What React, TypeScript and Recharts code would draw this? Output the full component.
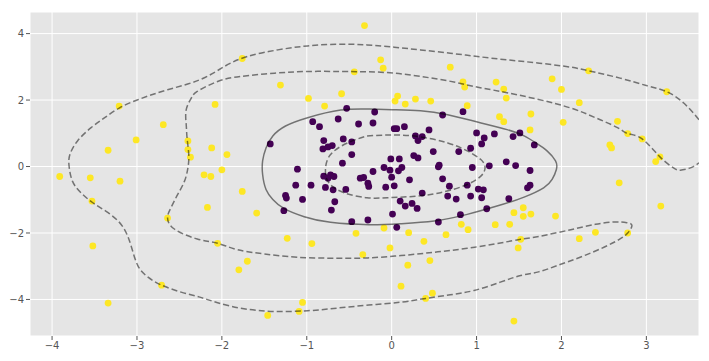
import React from 'react';
import { ScatterChart, Scatter, XAxis, YAxis, CartesianGrid } from 'recharts';

type P = [number, number];

const classInner: P[] = [
  [-0.53, 1.75], [-0.93, 1.35], [-0.63, 1.43], [-0.85, 1.2], [-0.39, 1.28], [-1.43, 0.68],
  [-0.8, 0.78], [-0.81, 0.53], [-0.75, 0.59], [-0.7, 0.63], [-0.57, 0.83], [-0.47, 0.74],
  [-0.47, 0.36], [-0.58, 0.1], [-1.11, -0.08], [-0.8, -0.29], [-0.75, -0.35], [-0.72, -0.25],
  [-0.68, -0.3], [-0.37, -0.35], [-0.33, -0.33], [-0.28, -0.5], [-0.27, -0.6], [-1.13, -0.56],
  [-0.95, -0.56], [-0.78, -0.63], [-0.69, -0.7], [-0.54, -0.69], [-1.25, -0.87], [-1.24, -0.95],
  [-1.05, -0.99], [-0.67, -1.06], [-0.71, -1.31], [-1.27, -1.33], [-0.47, -1.66], [-0.28, -1.61],
  [-0.2, 1.64], [0.6, 1.55], [0.84, 1.65], [-0.22, 1.31], [0.03, 1.14], [0.06, 1.14],
  [0.15, 1.2], [0.44, 1.1], [0.28, 0.92], [0.36, 0.9], [0.31, 0.78], [0.49, 0.45],
  [0.26, 0.33], [0.31, 0.26], [-0.01, 0.23], [0.09, 0.23], [-0.09, -0.03], [-0.02, -0.11],
  [0.12, -0.03], [0.08, -0.13], [-0.22, -0.15], [0.0, -0.32], [-0.07, -0.62], [0.03, -0.58],
  [0.21, -0.4], [0.36, -0.8], [0.56, 0.04], [0.55, -0.01], [0.6, -0.37], [0.68, -0.59],
  [0.66, -0.89], [0.76, -0.98], [0.79, 0.45], [0.93, 0.55], [0.95, -0.03], [0.89, -0.56],
  [0.93, -0.89], [1.02, -0.68], [1.08, -0.7], [1.06, -0.94], [1.0, 1.01], [1.09, 0.86],
  [1.06, 0.68], [1.21, 0.98], [1.15, 0.02], [1.35, 0.14], [1.46, 0.03], [1.43, 0.9],
  [1.51, 1.01], [1.68, 0.65], [1.63, -0.12], [1.63, -0.56], [1.6, -0.64], [1.38, -0.97],
  [1.12, -1.27], [0.81, -1.45], [0.55, -1.67], [0.01, -1.43], [0.1, -1.04], [0.16, -1.19],
  [0.24, -1.11], [0.3, -1.26], [0.06, -1.83],
];

const classOuter: P[] = [
  [-3.21, 1.82], [-0.32, 4.24], [-1.76, 3.25], [-0.44, 2.85], [-1.31, 2.45], [-0.98, 2.05],
  [-0.59, 2.19], [-2.08, 1.87], [-0.79, 1.82], [-2.12, 0.56], [-1.94, 0.36], [-2.0, -0.1],
  [-2.21, -0.25], [-2.13, -0.3], [-1.76, -0.75], [-2.17, -1.23], [-1.59, -1.4], [-2.69, 1.26],
  [-3.01, 0.8], [-3.34, 0.49], [-2.4, 0.77], [-2.4, 0.51], [-2.37, 0.28], [-3.91, -0.3],
  [-3.55, -0.34], [-3.2, -0.44], [-3.53, -1.04], [-2.64, -1.55], [-3.52, -2.39], [-3.34, -4.11],
  [-2.71, -3.57], [-2.05, -2.31], [-1.7, -2.85], [-1.8, -3.11], [-1.23, -2.16], [-0.94, -2.32],
  [-0.42, -2.01], [-0.34, -2.65], [-1.05, -4.09], [-1.09, -4.36], [-1.46, -4.48], [-0.09, -1.85],
  [0.2, -1.99], [0.64, -2.05], [0.38, -2.25], [-0.02, -2.45], [0.45, -2.83], [0.19, -2.97],
  [0.11, -3.6], [0.48, -3.81], [0.4, -3.97], [0.9, -1.9], [1.52, -2.19], [1.49, -2.45],
  [1.44, -4.65], [1.27, 1.5], [1.32, 1.35], [1.63, 1.1], [1.55, -1.24], [1.44, -1.39],
  [1.55, -1.5], [1.64, -1.43], [0.82, -1.74], [1.22, -1.75], [1.39, -1.74], [-0.13, 3.21],
  [-0.1, 2.96], [0.69, 2.99], [0.84, 2.55], [0.86, 2.39], [1.23, 2.54], [1.32, 2.33],
  [1.35, 2.06], [0.07, 2.12], [0.04, 1.97], [0.16, 1.88], [0.28, 2.03], [0.46, 1.97],
  [0.89, 1.83], [1.64, 1.58], [2.32, 2.88], [1.89, 2.64], [2.0, 2.32], [2.21, 1.92],
  [3.24, 2.25], [2.02, 1.33], [2.66, 1.36], [2.78, 0.99], [2.95, 0.83], [2.57, 0.65],
  [2.59, 0.56], [3.16, 0.29], [3.11, 0.15], [2.68, -0.49], [3.17, -1.19], [1.93, -1.49],
  [2.21, -2.17], [2.4, -1.98], [2.78, -2.0],
];

const levelInner: P[] = [
  [-0.29, 0.92], [0.03, 0.95], [0.34, 0.89], [0.66, 0.71], [0.89, 0.47], [1.05, 0.21],
  [1.1, -0.04], [1.05, -0.29], [0.89, -0.54], [0.62, -0.76], [0.3, -0.89], [-0.05, -0.94],
  [-0.29, -0.94], [-0.56, -0.79], [-0.74, -0.49], [-0.78, -0.09], [-0.72, 0.36], [-0.52, 0.71],
  [-0.29, 0.92],
];

const levelZero: P[] = [
  [-0.26, 1.73], [0.01, 1.71], [0.34, 1.68], [0.66, 1.56], [1.01, 1.34], [1.36, 1.11],
  [1.56, 0.92], [1.71, 0.69], [1.83, 0.47], [1.93, 0.17], [1.94, -0.09], [1.89, -0.39],
  [1.79, -0.64], [1.56, -0.92], [1.28, -1.16], [0.89, -1.44], [0.5, -1.64], [0.11, -1.72],
  [-0.27, -1.75], [-0.72, -1.68], [-1.03, -1.51], [-1.27, -1.26], [-1.4, -0.99], [-1.48, -0.69],
  [-1.52, -0.24], [-1.52, 0.17], [-1.48, 0.56], [-1.4, 0.92], [-1.25, 1.22], [-0.99, 1.47],
  [-0.6, 1.7], [-0.26, 1.73],
];

const levelOuter: P[] = [
  [3.62, 1.41], [3.44, 1.91], [3.24, 2.25], [3.01, 2.43], [2.69, 2.66], [2.32, 2.88],
  [2.11, 2.99], [1.74, 3.11], [1.36, 3.21], [1.01, 3.31], [0.69, 3.41], [0.34, 3.51],
  [0.03, 3.59], [-0.29, 3.66], [-0.64, 3.68], [-0.99, 3.63], [-1.34, 3.51], [-1.7, 3.31],
  [-1.97, 3.01], [-2.26, 2.61], [-2.64, 2.31], [-2.99, 2.01], [-3.21, 1.76], [-3.38, 1.47],
  [-3.54, 1.17], [-3.7, 0.77], [-3.79, 0.36], [-3.8, 0.02], [-3.76, -0.44], [-3.66, -0.79],
  [-3.52, -1.09], [-3.34, -1.39], [-3.17, -1.8], [-3.07, -2.38], [-2.99, -2.98], [-2.87, -3.33],
  [-2.71, -3.57], [-2.48, -3.78], [-2.26, -3.93], [-2.05, -4.1], [-1.74, -4.28], [-1.38, -4.36],
  [-0.99, -4.34], [-0.64, -4.26], [-0.27, -4.17], [0.11, -4.08], [0.4, -3.97], [0.69, -3.86],
  [0.97, -3.73], [1.28, -3.48], [1.52, -3.28], [1.73, -3.17], [1.95, -2.98], [2.22, -2.73],
  [2.5, -2.43], [2.69, -2.18], [2.78, -2.0], [2.83, -1.78], [2.77, -1.69], [2.62, -1.67],
  [2.4, -1.74], [2.11, -1.9], [1.74, -2.1], [1.52, -2.19], [1.28, -2.3], [0.89, -2.46],
  [0.5, -2.58], [0.11, -2.68], [-0.28, -2.75], [-0.64, -2.76], [-1.11, -2.73], [-1.5, -2.63],
  [-1.82, -2.5], [-2.05, -2.31], [-2.29, -2.18], [-2.56, -1.88], [-2.64, -1.54], [-2.6, -1.24],
  [-2.52, -0.84], [-2.44, -0.44], [-2.4, -0.04], [-2.39, 0.36], [-2.41, 0.86], [-2.42, 1.26],
  [-2.42, 1.71], [-2.36, 2.06], [-2.29, 2.26], [-2.05, 2.56], [-1.78, 2.71], [-1.38, 2.81],
  [-0.99, 2.86], [-0.6, 2.86], [-0.28, 2.85], [0.03, 2.81], [0.34, 2.71], [0.66, 2.58],
  [0.97, 2.41], [1.28, 2.26], [1.71, 2.03], [2.11, 1.76], [2.4, 1.47], [2.66, 1.17],
  [2.78, 0.99], [2.95, 0.83], [3.16, 0.29], [3.32, -0.04], [3.4, -0.11], [3.52, -0.04],
  [3.62, 0.11],
];

const xTicks = [-4, -3, -2, -1, 0, 1, 2, 3];
const yTicks = [-4, -2, 0, 2, 4];

const toPts = (arr: P[]) => arr.map(([x, y]) => ({ x, y }));
const fmt = (v: number) => String(v).replace('-', '\u2212');

const noShape = () => <g />;

const tickStyle = { fill: '#555555', fontSize: 10, fontFamily: 'DejaVu Sans' };
const contourStroke = { stroke: '#000000', strokeOpacity: 0.5, strokeWidth: 1.5 };

export default function App() {
  return (
    <div style={{ position: 'absolute', left: 0, top: 0, width: 709, height: 361, background: '#fff' }}>
      <ScatterChart width={709} height={361} margin={{ top: 12, right: 10, left: 0, bottom: 0 }}>
        <CartesianGrid fill="#E5E5E5" stroke="#FFFFFF" strokeWidth={1} horizontal vertical />
        <XAxis
          type="number"
          dataKey="x"
          domain={[-4.26, 3.62]}
          ticks={xTicks}
          allowDataOverflow
          axisLine={false}
          tickSize={4}
          tickLine={{ stroke: '#555555' }}
          tick={tickStyle}
          tickFormatter={fmt}
          height={25}
          interval={0}
        />
        <YAxis
          type="number"
          dataKey="y"
          domain={[-5.1, 4.65]}
          ticks={yTicks}
          allowDataOverflow
          axisLine={false}
          tickSize={4}
          tickLine={{ stroke: '#555555' }}
          tick={tickStyle}
          tickFormatter={fmt}
          width={30}
          interval={0}
        />
        <Scatter data={toPts(classInner)} fill="#440154" isAnimationActive={false}
          shape={(p: any) => <circle cx={p.cx} cy={p.cy} r={3.4} fill="#440154" />} />
        <Scatter data={toPts(classOuter)} fill="#FDE725" isAnimationActive={false}
          shape={(p: any) => <circle cx={p.cx} cy={p.cy} r={3.4} fill="#FDE725" />} />
        <Scatter data={toPts(levelInner)} isAnimationActive={false} shape={noShape}
          line={{ ...contourStroke, strokeDasharray: '6 3', fill: 'none' }} lineType="joint" lineJointType="natural" />
        <Scatter data={toPts(levelZero)} isAnimationActive={false} shape={noShape}
          line={{ ...contourStroke, fill: 'none' }} lineType="joint" lineJointType="natural" />
        <Scatter data={toPts(levelOuter)} isAnimationActive={false} shape={noShape}
          line={{ ...contourStroke, strokeDasharray: '6 3', fill: 'none' }} lineType="joint" lineJointType="natural" />
      </ScatterChart>
    </div>
  );
}
